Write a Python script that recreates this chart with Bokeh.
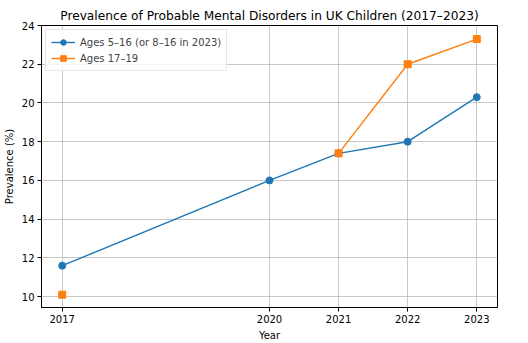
import numpy as np
from bokeh.plotting import figure
from bokeh.models import FixedTicker, Range1d
from bokeh.embed import file_html
from bokeh.resources import INLINE

years = [2017, 2020, 2021, 2022, 2023]
ages_5_16 = [11.6, 16.0, 17.4, 18.0, 20.3]
ages_17_19 = [10.1, np.nan, 17.4, 22.0, 23.3]
y_ticks = [10, 12, 14, 16, 18, 20, 22, 24]

FONT = "DejaVu Sans"
BLUE = "#1f77b4"
ORANGE = "#ff7f0e"

p = figure(width=528, height=343, output_backend="svg", toolbar_location=None,
           x_range=Range1d(2016.7, 2023.3), y_range=Range1d(9.44, 24.0),
           min_border_left=41, min_border_right=31, min_border_top=25, min_border_bottom=36,
           title="Prevalence of Probable Mental Disorders in UK Children (2017\u20132023)")

p.title.align = "center"
p.title.text_font = FONT
p.title.text_font_size = "12.2px"
p.title.text_font_style = "normal"
p.title.text_color = "black"
p.title.standoff = 6

p.line(years, ages_5_16, line_color=BLUE, line_width=1.4, legend_label="Ages 5\u201316 (or 8\u201316 in 2023)")
p.scatter(years, ages_5_16, marker="circle", size=7, fill_color=BLUE, line_color=BLUE,
          legend_label="Ages 5\u201316 (or 8\u201316 in 2023)")
p.line(years, ages_17_19, line_color=ORANGE, line_width=1.4, legend_label="Ages 17\u201319")
p.scatter(years, ages_17_19, marker="square", size=7, fill_color=ORANGE, line_color=ORANGE,
          legend_label="Ages 17\u201319")

p.xaxis.ticker = FixedTicker(ticks=years)
p.yaxis.ticker = FixedTicker(ticks=y_ticks)
p.xaxis.axis_label = "Year"
p.yaxis.axis_label = "Prevalence (%)"
for ax in (p.xaxis, p.yaxis):
    ax.axis_label_text_font = FONT
    ax.axis_label_text_font_size = "10px"
    ax.axis_label_text_font_style = "normal"
    ax.axis_label_text_color = "black"
    ax.major_label_text_font = FONT
    ax.major_label_text_font_size = "10px"
    ax.major_label_text_color = "black"
    ax.minor_tick_line_color = None
    ax.major_tick_in = 0
    ax.major_tick_out = 4
    ax.major_tick_line_color = "black"
    ax.axis_line_color = "black"
    ax.axis_label_standoff = 4
    ax.major_label_standoff = 3

p.grid.grid_line_color = "#b0b0b0"
p.grid.grid_line_alpha = 0.7
p.grid.grid_line_width = 1
p.outline_line_color = "black"
p.outline_line_width = 1
p.outline_line_alpha = 1

p.legend.location = "top_left"
p.legend.label_text_font = FONT
p.legend.label_text_font_size = "10px"
p.legend.label_height = 14
p.legend.glyph_height = 14
p.legend.glyph_width = 24
p.legend.spacing = 2
p.legend.padding = 5
p.legend.margin = 4
p.legend.border_line_color = "#d0d0d0"
p.legend.background_fill_alpha = 0.8

open("out.html", "w").write(file_html(p, INLINE))
